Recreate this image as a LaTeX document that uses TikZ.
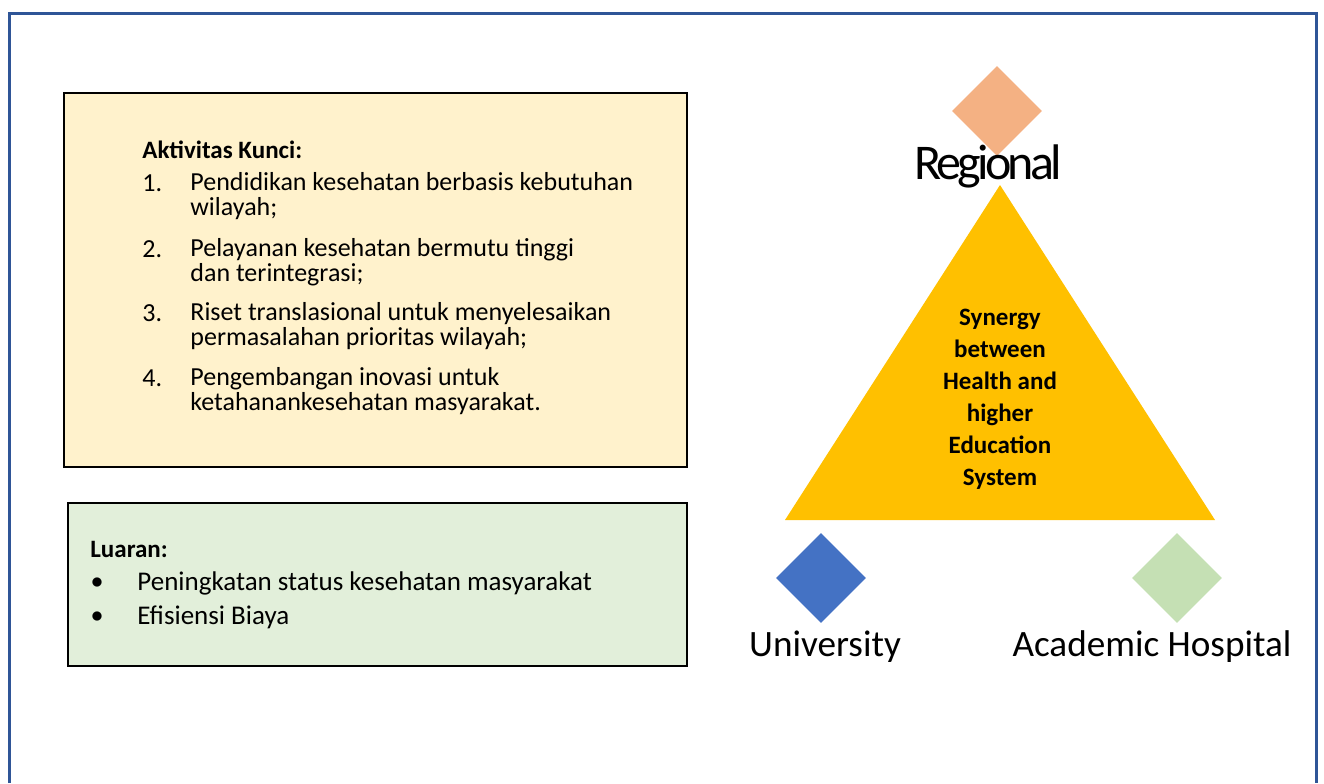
\documentclass[tikz,border=0pt]{standalone}
\usepackage{fontspec}
\setmainfont{Carlito}
\usetikzlibrary{positioning, shapes.geometric}

\begin{document}
\begin{tikzpicture}[x=0.5pt, y=-0.5pt,
    frame/.style={line width=1.5pt, draw=framecolor},
    panel/.style={rectangle, draw=black, line width=0.8pt, anchor=north west, inner sep=0pt},
    itemtext/.style={anchor=west, align=left, inner sep=0pt, font=\fontsize{13}{12.75}\selectfont},
    heading/.style={anchor=west, inner sep=0pt, font=\fontsize{12.5}{12.75}\selectfont\bfseries},
    gem/.style={diamond, minimum width=45pt, minimum height=45pt, inner sep=0pt},
    bigtext/.style={inner sep=0pt, font=\fontsize{18.6}{20}\selectfont}]

    % Define colors
    \definecolor{framecolor}{RGB}{47,85,151}
    \definecolor{taskcolor}{RGB}{255,242,204}
    \definecolor{outcolor}{RGB}{226,239,218}
    \definecolor{trianglecolor}{RGB}{255,192,0}
    \definecolor{regioncolor}{RGB}{244,177,131}
    \definecolor{unicolor}{RGB}{68,114,196}
    \definecolor{hospcolor}{RGB}{197,224,180}

    \useasboundingbox (0,0) rectangle (1324,783);
    \draw[frame] (9.5,783) |- (1316,13) -- (1316,783);

    % Panels
    \node[panel, fill=taskcolor, minimum width=311.5pt, minimum height=187pt] (tasks) at (63,92) {};
    \node[panel, fill=outcolor, minimum width=309.5pt, minimum height=81.5pt] (outputs) at (67,502) {};

    % Key activities
    \node[heading] (taskhead) at (142,150) {Aktivitas Kunci:};
    \node[itemtext] (n1) at (142,183) {1.};
    \node[itemtext] (t1) at (190,196) {Pendidikan kesehatan berbasis kebutuhan\\wilayah;};
    \node[itemtext] (n2) at (142,249) {2.};
    \node[itemtext] (t2) at (190,262) {Pelayanan kesehatan bermutu tinggi\\dan terintegrasi;};
    \node[itemtext] (n3) at (142,313) {3.};
    \node[itemtext] (t3) at (190,326) {Riset translasional untuk menyelesaikan\\permasalahan prioritas wilayah;};
    \node[itemtext] (n4) at (142,378) {4.};
    \node[itemtext] (t4) at (190,391) {Pengembangan inovasi untuk\\ketahanankesehatan masyarakat.};

    % Outputs
    \node[heading] (outhead) at (90,549) {Luaran:};
    \node[inner sep=0pt, font=\large] (b1) at (97,583) {$\bullet$};
    \node[itemtext, font=\fontsize{13.5}{14}\selectfont] (o1) at (137,583) {Peningkatan status kesehatan masyarakat};
    \node[inner sep=0pt, font=\large] (b2) at (97,617) {$\bullet$};
    \node[itemtext, font=\fontsize{13.5}{14}\selectfont] (o2) at (137,617) {Efisiensi Biaya};

    % Triangle
    \coordinate (apex) at (1000,185);
    \coordinate (left) at (785,520);
    \coordinate (right) at (1215,520);
    \fill[trianglecolor] (apex) -- (right) -- (left) -- cycle;
    \node[align=center, inner sep=0pt, font=\fontsize{12.5}{16}\selectfont\bfseries] (synergy) at (1000,399)
        {Synergy\\between\\Health and\\higher\\Education\\System};

    % Corners
    \node[gem, fill=regioncolor] (regional) at (997,111) {};
    \node[inner sep=0pt, font=\fontsize{25}{28}\selectfont\addfontfeatures{LetterSpace=-7.5}] (regionaltext) at (988,166) {Regional};
    \node[gem, fill=unicolor] (university) at (821,578) {};
    \node[bigtext] (universitytext) at (825,647) {University};
    \node[gem, fill=hospcolor] (hospital) at (1177,578) {};
    \node[bigtext] (hospitaltext) at (1152,647) {Academic Hospital};

\end{tikzpicture}
\end{document}
